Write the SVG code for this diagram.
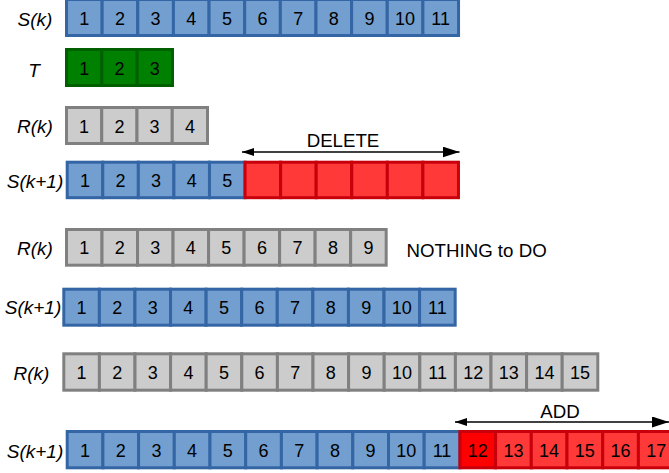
<svg xmlns="http://www.w3.org/2000/svg" width="669" height="473" viewBox="0 0 669 473">
<defs>
<style>
.b{fill:#729fcf;stroke:#3465a4;stroke-width:3}
.g{fill:#cccccc;stroke:#808080;stroke-width:3}
.gr{fill:#008000;stroke:#006000;stroke-width:3}
.r{fill:#ff3838;stroke:#c8000b;stroke-width:3}
.r0{fill:#ff0000;stroke:#c8000b;stroke-width:3}
text{font-family:"Liberation Sans",Arial,sans-serif;fill:#000}
.n{font-size:18px;text-anchor:middle}
.l{font-size:19px;font-style:italic;text-anchor:middle}
.t{font-size:18.7px}
.a{stroke:#000;stroke-width:1.3;fill:none}
</style>
<marker id="hs" markerUnits="userSpaceOnUse" markerWidth="12" markerHeight="8" refX="12" refY="4" orient="auto-start-reverse"><path d="M0,0 L12,4 L0,8 z" fill="#000"/></marker>
<marker id="he" markerUnits="userSpaceOnUse" markerWidth="17" markerHeight="11" refX="17" refY="5.5" orient="auto"><path d="M0,0 L17,5.5 L0,11 z" fill="#000"/></marker>
</defs>

<g id="row-Sk">
<text class="l" x="35" y="25.5">S(k)</text>
<rect class="b" x="66.5" y="-0.5" width="35.64" height="36"/>
<rect class="b" x="102.14" y="-0.5" width="35.64" height="36"/>
<rect class="b" x="137.78" y="-0.5" width="35.64" height="36"/>
<rect class="b" x="173.42" y="-0.5" width="35.64" height="36"/>
<rect class="b" x="209.06" y="-0.5" width="35.64" height="36"/>
<rect class="b" x="244.7" y="-0.5" width="35.64" height="36"/>
<rect class="b" x="280.34" y="-0.5" width="35.64" height="36"/>
<rect class="b" x="315.98" y="-0.5" width="35.64" height="36"/>
<rect class="b" x="351.62" y="-0.5" width="35.64" height="36"/>
<rect class="b" x="387.26" y="-0.5" width="35.64" height="36"/>
<rect class="b" x="422.9" y="-0.5" width="35.64" height="36"/>
<text class="n" x="84.3" y="25">1</text>
<text class="n" x="120" y="25">2</text>
<text class="n" x="155.6" y="25">3</text>
<text class="n" x="191.2" y="25">4</text>
<text class="n" x="226.9" y="25">5</text>
<text class="n" x="262.5" y="25">6</text>
<text class="n" x="298.2" y="25">7</text>
<text class="n" x="333.8" y="25">8</text>
<text class="n" x="369.4" y="25">9</text>
<text class="n" x="405.1" y="25">10</text>
<text class="n" x="440.7" y="25">11</text>
</g>

<g id="row-T">
<text class="l" x="34" y="77">T</text>
<rect class="gr" x="66.5" y="49.5" width="35.33" height="36"/>
<rect class="gr" x="101.83" y="49.5" width="35.33" height="36"/>
<rect class="gr" x="137.16" y="49.5" width="35.33" height="36"/>
<text class="n" x="84.2" y="74.5">1</text>
<text class="n" x="119.5" y="74.5">2</text>
<text class="n" x="154.8" y="74.5">3</text>
</g>

<g id="row-Rk-1">
<text class="l" x="35" y="132.5">R(k)</text>
<rect class="g" x="66.5" y="107.5" width="35.25" height="36"/>
<rect class="g" x="101.75" y="107.5" width="35.25" height="36"/>
<rect class="g" x="137" y="107.5" width="35.25" height="36"/>
<rect class="g" x="172.25" y="107.5" width="35.25" height="36"/>
<text class="n" x="84.1" y="132.5">1</text>
<text class="n" x="119.4" y="132.5">2</text>
<text class="n" x="154.6" y="132.5">3</text>
<text class="n" x="189.9" y="132.5">4</text>
</g>

<g id="row-Sk1-1">
<text class="l" x="35" y="188">S(k+1)</text>
<rect class="b" x="67.2" y="162.2" width="35.57" height="35.5"/>
<rect class="b" x="102.77" y="162.2" width="35.57" height="35.5"/>
<rect class="b" x="138.34" y="162.2" width="35.57" height="35.5"/>
<rect class="b" x="173.91" y="162.2" width="35.57" height="35.5"/>
<rect class="b" x="209.48" y="162.2" width="35.57" height="35.5"/>
<rect class="r" x="245.05" y="162.2" width="35.57" height="35.5"/>
<rect class="r" x="280.62" y="162.2" width="35.57" height="35.5"/>
<rect class="r" x="316.19" y="162.2" width="35.57" height="35.5"/>
<rect class="r" x="351.76" y="162.2" width="35.57" height="35.5"/>
<rect class="r" x="387.33" y="162.2" width="35.57" height="35.5"/>
<rect class="r" x="422.9" y="162.2" width="35.57" height="35.5"/>
<text class="n" x="85" y="187">1</text>
<text class="n" x="120.6" y="187">2</text>
<text class="n" x="156.1" y="187">3</text>
<text class="n" x="191.7" y="187">4</text>
<text class="n" x="227.3" y="187">5</text>
</g>

<g id="row-Rk-2">
<text class="l" x="35" y="254.5">R(k)</text>
<rect class="g" x="66.5" y="229.5" width="35.52" height="35.7"/>
<rect class="g" x="102.02" y="229.5" width="35.52" height="35.7"/>
<rect class="g" x="137.54" y="229.5" width="35.52" height="35.7"/>
<rect class="g" x="173.06" y="229.5" width="35.52" height="35.7"/>
<rect class="g" x="208.58" y="229.5" width="35.52" height="35.7"/>
<rect class="g" x="244.1" y="229.5" width="35.52" height="35.7"/>
<rect class="g" x="279.62" y="229.5" width="35.52" height="35.7"/>
<rect class="g" x="315.14" y="229.5" width="35.52" height="35.7"/>
<rect class="g" x="350.66" y="229.5" width="35.52" height="35.7"/>
<text class="n" x="84.3" y="254">1</text>
<text class="n" x="119.8" y="254">2</text>
<text class="n" x="155.3" y="254">3</text>
<text class="n" x="190.8" y="254">4</text>
<text class="n" x="226.3" y="254">5</text>
<text class="n" x="261.9" y="254">6</text>
<text class="n" x="297.4" y="254">7</text>
<text class="n" x="332.9" y="254">8</text>
<text class="n" x="368.4" y="254">9</text>
<text class="t" x="406.5" y="257">NOTHING to DO</text>
</g>

<g id="row-Sk1-2">
<text class="l" x="33" y="313.5">S(k+1)</text>
<rect class="b" x="63.8" y="289.2" width="35.58" height="36"/>
<rect class="b" x="99.38" y="289.2" width="35.58" height="36"/>
<rect class="b" x="134.96" y="289.2" width="35.58" height="36"/>
<rect class="b" x="170.54" y="289.2" width="35.58" height="36"/>
<rect class="b" x="206.12" y="289.2" width="35.58" height="36"/>
<rect class="b" x="241.7" y="289.2" width="35.58" height="36"/>
<rect class="b" x="277.28" y="289.2" width="35.58" height="36"/>
<rect class="b" x="312.86" y="289.2" width="35.58" height="36"/>
<rect class="b" x="348.44" y="289.2" width="35.58" height="36"/>
<rect class="b" x="384.02" y="289.2" width="35.58" height="36"/>
<rect class="b" x="419.6" y="289.2" width="35.58" height="36"/>
<text class="n" x="81.6" y="314">1</text>
<text class="n" x="117.2" y="314">2</text>
<text class="n" x="152.8" y="314">3</text>
<text class="n" x="188.3" y="314">4</text>
<text class="n" x="223.9" y="314">5</text>
<text class="n" x="259.5" y="314">6</text>
<text class="n" x="295.1" y="314">7</text>
<text class="n" x="330.7" y="314">8</text>
<text class="n" x="366.2" y="314">9</text>
<text class="n" x="401.8" y="314">10</text>
<text class="n" x="437.4" y="314">11</text>
</g>

<g id="row-Rk-3">
<text class="l" x="31.5" y="380">R(k)</text>
<rect class="g" x="63.8" y="353.8" width="35.6" height="36.4"/>
<rect class="g" x="99.4" y="353.8" width="35.6" height="36.4"/>
<rect class="g" x="135" y="353.8" width="35.6" height="36.4"/>
<rect class="g" x="170.6" y="353.8" width="35.6" height="36.4"/>
<rect class="g" x="206.2" y="353.8" width="35.6" height="36.4"/>
<rect class="g" x="241.8" y="353.8" width="35.6" height="36.4"/>
<rect class="g" x="277.4" y="353.8" width="35.6" height="36.4"/>
<rect class="g" x="313" y="353.8" width="35.6" height="36.4"/>
<rect class="g" x="348.6" y="353.8" width="35.6" height="36.4"/>
<rect class="g" x="384.2" y="353.8" width="35.6" height="36.4"/>
<rect class="g" x="419.8" y="353.8" width="35.6" height="36.4"/>
<rect class="g" x="455.4" y="353.8" width="35.6" height="36.4"/>
<rect class="g" x="491" y="353.8" width="35.6" height="36.4"/>
<rect class="g" x="526.6" y="353.8" width="35.6" height="36.4"/>
<rect class="g" x="562.2" y="353.8" width="35.6" height="36.4"/>
<text class="n" x="81.6" y="379">1</text>
<text class="n" x="117.2" y="379">2</text>
<text class="n" x="152.8" y="379">3</text>
<text class="n" x="188.4" y="379">4</text>
<text class="n" x="224" y="379">5</text>
<text class="n" x="259.6" y="379">6</text>
<text class="n" x="295.2" y="379">7</text>
<text class="n" x="330.8" y="379">8</text>
<text class="n" x="366.4" y="379">9</text>
<text class="n" x="402" y="379">10</text>
<text class="n" x="437.6" y="379">11</text>
<text class="n" x="473.2" y="379">12</text>
<text class="n" x="508.8" y="379">13</text>
<text class="n" x="544.4" y="379">14</text>
<text class="n" x="580" y="379">15</text>
</g>

<g id="row-Sk1-3">
<text class="l" x="35" y="458">S(k+1)</text>
<rect class="b" x="67.2" y="431.5" width="35.7" height="36.3"/>
<rect class="b" x="102.9" y="431.5" width="35.7" height="36.3"/>
<rect class="b" x="138.6" y="431.5" width="35.7" height="36.3"/>
<rect class="b" x="174.3" y="431.5" width="35.7" height="36.3"/>
<rect class="b" x="210" y="431.5" width="35.7" height="36.3"/>
<rect class="b" x="245.7" y="431.5" width="35.7" height="36.3"/>
<rect class="b" x="281.4" y="431.5" width="35.7" height="36.3"/>
<rect class="b" x="317.1" y="431.5" width="35.7" height="36.3"/>
<rect class="b" x="352.8" y="431.5" width="35.7" height="36.3"/>
<rect class="b" x="388.5" y="431.5" width="35.7" height="36.3"/>
<rect class="b" x="424.2" y="431.5" width="35.7" height="36.3"/>
<rect class="r0" x="459.9" y="431.5" width="35.7" height="36.3"/>
<rect class="r" x="495.6" y="431.5" width="35.7" height="36.3"/>
<rect class="r" x="531.3" y="431.5" width="35.7" height="36.3"/>
<rect class="r" x="567" y="431.5" width="35.7" height="36.3"/>
<rect class="r" x="602.7" y="431.5" width="35.7" height="36.3"/>
<rect class="r" x="638.4" y="431.5" width="35.7" height="36.3"/>
<text class="n" x="85" y="456.6">1</text>
<text class="n" x="120.7" y="456.6">2</text>
<text class="n" x="156.4" y="456.6">3</text>
<text class="n" x="192.1" y="456.6">4</text>
<text class="n" x="227.8" y="456.6">5</text>
<text class="n" x="263.5" y="456.6">6</text>
<text class="n" x="299.2" y="456.6">7</text>
<text class="n" x="334.9" y="456.6">8</text>
<text class="n" x="370.6" y="456.6">9</text>
<text class="n" x="406.3" y="456.6">10</text>
<text class="n" x="442" y="456.6">11</text>
<text class="n" x="477.7" y="456.6">12</text>
<text class="n" x="513.4" y="456.6">13</text>
<text class="n" x="549.1" y="456.6">14</text>
<text class="n" x="584.8" y="456.6">15</text>
<text class="n" x="620.5" y="456.6">16</text>
<text class="n" x="656.2" y="456.6">17</text>
</g>

<g id="connectors">
<line class="a" x1="242" y1="152" x2="459.5" y2="152" marker-start="url(#hs)" marker-end="url(#he)"/>
<text class="t" x="343" y="147.3" text-anchor="middle">DELETE</text>
<line class="a" x1="455" y1="422" x2="669" y2="422" marker-start="url(#hs)" marker-end="url(#he)"/>
<text class="t" x="560" y="418.3" text-anchor="middle">ADD</text>
</g>
</svg>
